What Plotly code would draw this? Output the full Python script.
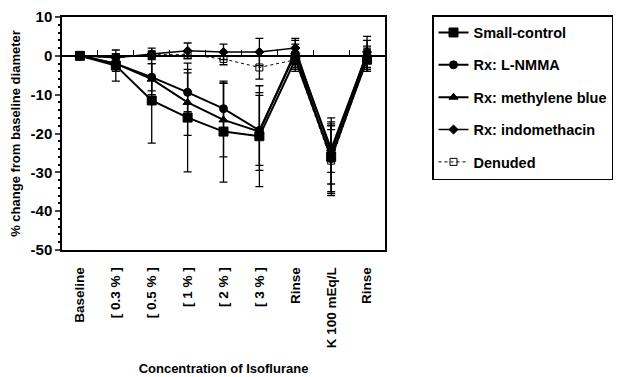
import plotly.graph_objects as go

categories = ["Baseline", "[ 0.3 % ]", "[ 0.5 % ]", "[ 1 % ]", "[ 2 % ]", "[ 3 % ]",
              "Rinse", "K 100 mEq/L", "Rinse"]
x_idx = list(range(len(categories)))

small_control = [0, -2.5, -11.5, -15.9, -19.5, -20.7, -1.0, -26.0, -1.0]
small_control_err = [0, 4, 11, 14, 13, 13, 3, 10, 3]
l_nmma = [0, -2.0, -5.5, -9.4, -13.6, -19.2, 0.5, -26.5, 0.0]
l_nmma_err = [0, 2, 3.5, 5, 6.5, 9, 4, 9, 4]
methylene = [0, -2.0, -6.0, -12.0, -16.5, -19.5, 1.0, -24.0, 0.5]
methylene_err = [0, 1.5, 4, 8.5, 9.5, 10, 2, 6, 2]
indometh = [0, -0.5, 0.5, 1.3, 1.0, 1.0, 2.0, -25.0, 1.0]
indometh_err = [0, 1, 1.5, 2, 2, 3.5, 2, 8, 4]
denuded = [0, -0.5, 0.3, 0.3, -0.8, -3.0, -1.0, -27.0, -1.0]
denuded_err = [0, 1, 1, 1, 1.5, 3, 2, 8, 2.5]

series = [
    ("Small-control", small_control, small_control_err, "square", 9, 2, "solid"),
    ("Rx: L-NMMA", l_nmma, l_nmma_err, "circle", 8, 2, "solid"),
    ("Rx: methylene blue", methylene, methylene_err, "triangle-up", 8, 2, "solid"),
    ("Rx: indomethacin", indometh, indometh_err, "diamond", 7, 1.5, "solid"),
    ("Denuded", denuded, denuded_err, "square-open", 7, 1, "dot"),
]

fig = go.Figure()
for i, (name, vals, err, sym, msize, lw, dash) in enumerate(series):
    fig.add_trace(go.Scatter(
        x=x_idx, y=vals, name=name, mode="lines+markers",
        legendgroup=f"g{i}",
        line=dict(color="black", width=lw, dash=dash),
        marker=dict(symbol=sym, size=msize, color="black",
                    line=dict(color="black", width=1)),
        error_y=dict(type="data", array=err, visible=True, color="black",
                     thickness=1.3, width=4),
    ))

# invisible trace for x axis at zero with ticks
fig.add_trace(go.Scatter(x=[0], y=[0], xaxis="x2", showlegend=False,
                         mode="markers", marker=dict(opacity=0), hoverinfo="skip"))

font_fam = "Liberation Sans, Arial, sans-serif"
fig.update_layout(
    width=630, height=377,
    margin=dict(l=54, r=253, t=8, b=135),
    plot_bgcolor="white", paper_bgcolor="white",
    font=dict(family=font_fam, color="black", size=12),
    xaxis=dict(
        range=[-0.5, 8.5], tickvals=x_idx, ticktext=categories, tickangle=-90,
        automargin=False,
        showgrid=False, zeroline=False, showline=True, linecolor="black",
        linewidth=1.5, mirror=True, ticks="", ticklabelstandoff=10,
        tickfont=dict(size=13.5, family=font_fam, weight="bold"),
        title=dict(text="Concentration of Isoflurane", standoff=17,
                   font=dict(size=13, family=font_fam, weight="bold")),
    ),
    xaxis2=dict(
        overlaying="x", anchor="free", position=50 / 60, side="top",
        automargin=False,
        range=[-0.5, 8.5], tickvals=[i + 0.5 for i in range(8)],
        showticklabels=False, ticks="outside", ticklen=6, tickwidth=1,
        tickcolor="black", showline=False, showgrid=False, zeroline=False,
    ),
    yaxis=dict(
        range=[-50, 10], tickvals=[10, 0, -10, -20, -30, -40, -50],
        ticktext=["10", "0", "-10", "-20", "-30", "-40", "-50"],
        automargin=False,
        showgrid=False, zeroline=True, zerolinecolor="black", zerolinewidth=2,
        showline=True, linecolor="black", linewidth=1.5, mirror=True,
        ticks="outside", ticklen=5, tickwidth=1.5,
        minor=dict(dtick=2, ticks="outside", ticklen=2, tickcolor="black"),
        tickfont=dict(size=15, family=font_fam, weight="bold"),
        title=dict(text="% change from baseline diameter", standoff=12,
                   font=dict(size=13, family=font_fam, weight="bold")),
    ),
    legend=dict(
        x=(432 - 62) / 323, y=1.004, xanchor="left", yanchor="top",
        bordercolor="black", borderwidth=1.5, tracegroupgap=10.5,
        font=dict(size=14.5, family=font_fam, weight="bold"),
        bgcolor="white",
    ),
)

fig.write_html("out.html")
